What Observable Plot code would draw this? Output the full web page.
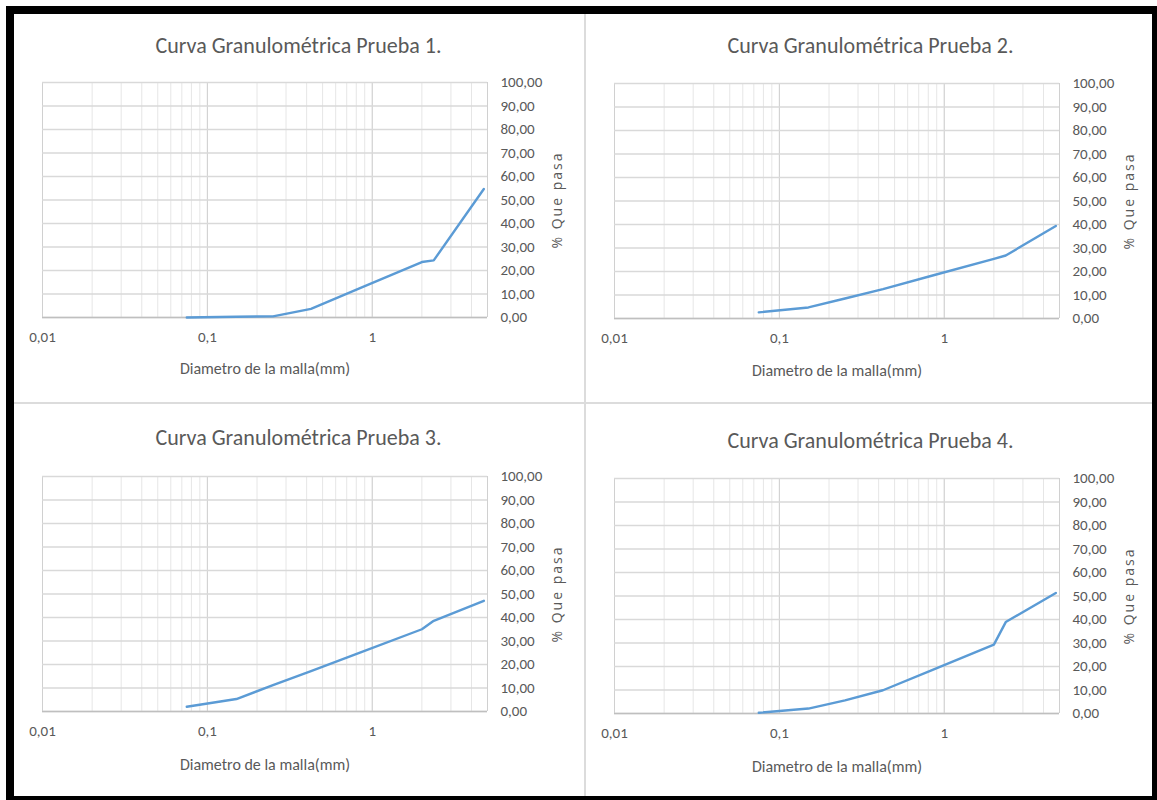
<!DOCTYPE html>
<html>
<head>
<meta charset="utf-8">
<script src="https://cdn.jsdelivr.net/npm/d3@7"></script>
<script src="https://cdn.jsdelivr.net/npm/@observablehq/plot@0.6"></script>
<style>
  html, body { margin: 0; padding: 0; background: #fff; }
  #page { position: relative; width: 1157px; height: 800px; overflow: hidden; background: #fff; }
  .border { position: absolute; left: 6px; top: 6px; width: 1151px; height: 794px; box-sizing: border-box;
            border-top: 8px solid #000; border-left: 8px solid #000; border-right: 5px solid #000; border-bottom: 4px solid #000; }
  .sep { position: absolute; background: #dcdcdc; }
  .panel { position: absolute; }
  .panel svg { display: block; }
</style>
</head>
<body>
<div id="page">
  <div class="border"></div>
  <div class="sep" style="left:584px; top:14px; width:2px; height:782px;"></div>
  <div class="sep" style="left:14px; top:402px; width:1138px; height:2px;"></div>
</div>
<script>
// ---- data ----
const tamiz   = [0.075, 0.15, 0.25, 0.425, 0.85, 2.0, 2.36, 4.75];   // diámetro de malla (mm)
const prueba1 = [0.0, 0.3, 0.5, 3.7, 12.6, 23.6, 24.3, 54.7];       // % que pasa
const prueba2 = [2.6, 4.7, 8.5, 12.5, 18.3, 25.4, 26.8, 39.4];
const prueba3 = [2.0, 5.3, 11.2, 17.2, 25.2, 35.0, 38.6, 47.1];
const prueba4 = [0.3, 2.1, 5.6, 9.9, 18.6, 29.3, 38.9, 51.3];
const titulos = ["Curva Granulométrica Prueba 1.", "Curva Granulométrica Prueba 2.",
                 "Curva Granulométrica Prueba 3.", "Curva Granulométrica Prueba 4."];
const xTicks = [0.01, 0.1, 1];
const yTicks = [0, 10, 20, 30, 40, 50, 60, 70, 80, 90, 100];
const xDomain = [0.01, 5];
const yDomain = [0, 100];
const xLabel = "Diametro de la malla(mm)";
const yLabel = "% Que pasa";
const series = [prueba1, prueba2, prueba3, prueba4];

// ---- layout ----
const layout = [
  {L: 14,  T: 14,  W: 570, H: 388, x0: 42,  x1: 487,  y0: 82,  y1: 317, tx: 298, ty: 45,  xl: 368, yl: 557},
  {L: 586, T: 14,  W: 566, H: 388, x0: 614, x1: 1059, y0: 83,  y1: 318, tx: 870, ty: 45,  xl: 370, yl: 1129},
  {L: 14,  T: 404, W: 570, H: 392, x0: 42,  x1: 487,  y0: 476, y1: 711, tx: 298, ty: 437, xl: 764, yl: 557},
  {L: 586, T: 404, W: 566, H: 392, x0: 614, x1: 1059, y0: 478, y1: 713, tx: 870, ty: 440, xl: 766, yl: 1129}
];

const FONT = "Carlito, 'Liberation Sans Narrow', 'DejaVu Sans Condensed', sans-serif";
const TXT = "#595959";
const fmtY = d => d3.format(".2f")(d).replace(".", ",");
const fmtX = d => String(d).replace(".", ",");

const page = document.getElementById("page");

series.forEach((vals, i) => {
  const g = layout[i];
  const data = tamiz.map((t, k) => ({tamiz: t, pasa: vals[k]}));
  const chart = Plot.plot({
    width: g.W,
    height: g.H,
    marginLeft: g.x0 - g.L,
    marginRight: g.L + g.W - g.x1,
    marginTop: g.y0 - g.T,
    marginBottom: g.T + g.H - g.y1,
    style: {fontFamily: FONT, color: TXT, background: "transparent", overflow: "visible"},
    x: {type: "log", domain: xDomain},
    y: {domain: yDomain},
    marks: [
      Plot.gridX({ticks: 30, stroke: "#e6e6e6", strokeOpacity: 1, strokeWidth: 1}),
      Plot.gridX({ticks: xTicks, stroke: "#d0d0d0", strokeOpacity: 1, strokeWidth: 1}),
      Plot.gridY({ticks: yTicks, stroke: "#d9d9d9", strokeOpacity: 1, strokeWidth: 1.3}),
      Plot.ruleX(xDomain.slice(1), {stroke: "#d0d0d0", strokeWidth: 1}),
      Plot.ruleY(yDomain.slice(0, 1), {stroke: "#bfbfbf", strokeWidth: 1.3}),
      Plot.axisY({anchor: "right", ticks: yTicks, tickSize: 0, tickPadding: 13, tickFormat: fmtY,
                  fontSize: 15, fill: TXT, label: null}),
      Plot.axisX({anchor: "bottom", ticks: xTicks, tickSize: 0, tickPadding: 14, tickFormat: fmtX,
                  fontSize: 15, fill: TXT, label: null}),
      Plot.line(data, {x: "tamiz", y: "pasa", stroke: "#5b9bd5", strokeWidth: 2.4,
                       strokeLinejoin: "round", strokeLinecap: "round"}),
      Plot.text([titulos[i]], {text: d => d, frameAnchor: "top-left", dx: g.tx - g.x0, dy: g.ty - g.y0,
                               textAnchor: "middle", lineAnchor: "middle", fontSize: 22, fill: TXT}),
      Plot.text([xLabel], {text: d => d, frameAnchor: "bottom", dy: g.xl - g.y1, textAnchor: "middle",
                           lineAnchor: "middle", fontSize: 16, fill: TXT}),
      Plot.text([yLabel], {text: d => d, frameAnchor: "right", dx: g.yl - g.x1, rotate: -90,
                           textAnchor: "middle", lineAnchor: "middle", fontSize: 14, fill: TXT,
                           fontFamily: "'Open Sans', 'DejaVu Sans', sans-serif"})
    ]
  });
  // letter spacing of the rotated y-axis title, as in the reference
  d3.select(chart).selectAll("text").filter(function() { return this.textContent === yLabel; })
    .style("letter-spacing", "2px");
  const wrap = document.createElement("div");
  wrap.className = "panel";
  wrap.style.left = g.L + "px";
  wrap.style.top = g.T + "px";
  wrap.appendChild(chart);
  page.appendChild(wrap);
});
</script>
</body>
</html>
